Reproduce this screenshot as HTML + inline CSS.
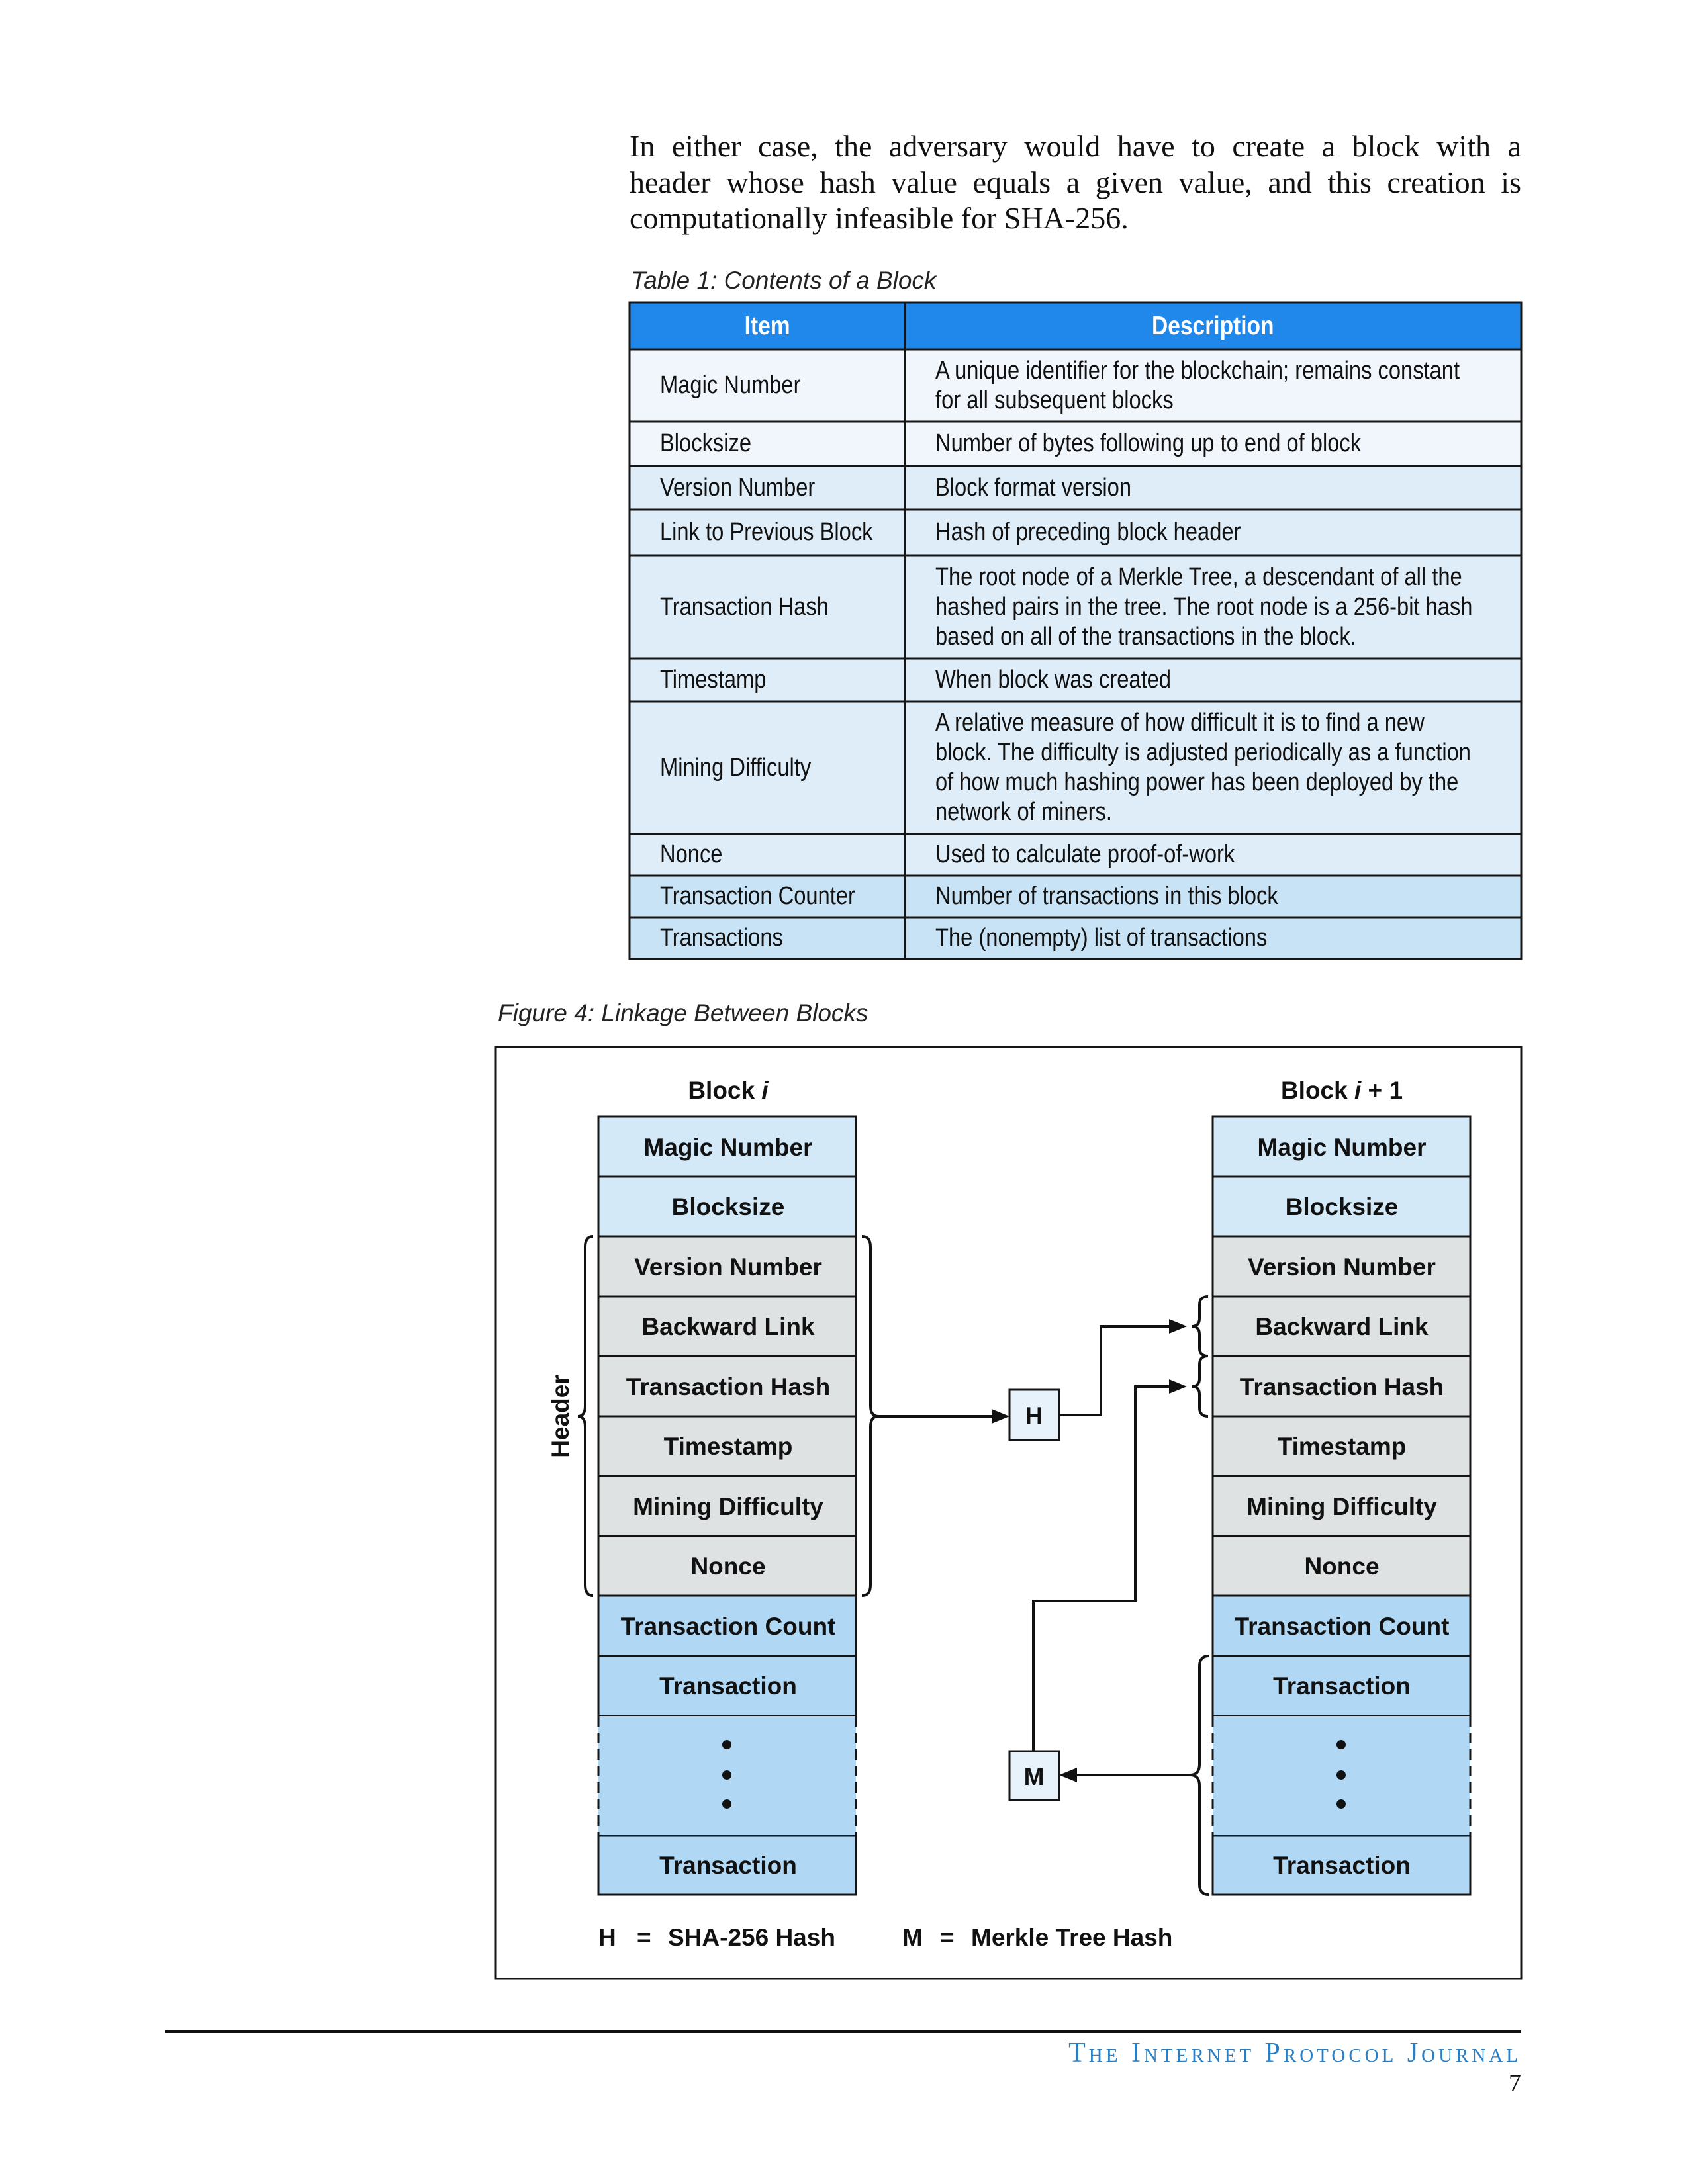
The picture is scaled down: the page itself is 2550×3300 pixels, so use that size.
<!DOCTYPE html>
<html><head><meta charset="utf-8"><style>
html,body{margin:0;padding:0;background:#fff;}
body{width:2550px;height:3300px;position:relative;overflow:hidden;}
.p{position:absolute;left:951px;width:1347px;font-family:"Liberation Serif",serif;font-size:46px;line-height:55px;text-align:justify;text-align-last:justify;color:#111;white-space:nowrap;}
.cap{position:absolute;font-family:"Liberation Sans",sans-serif;font-style:italic;font-size:37px;color:#222;}
.row{position:absolute;left:951px;width:1347px;}
.c{position:absolute;top:0;bottom:0;display:flex;align-items:center;font-family:"Liberation Sans",sans-serif;font-size:38px;line-height:45px;color:#111;white-space:nowrap;}
.c span{display:inline-block;transform:scaleX(0.86);transform-origin:left center;}
.a{left:46px;}
.b{left:462px;}
.h{font-weight:bold;color:#fff;font-size:39px;justify-content:center;}
.h span{transform-origin:center center;}
</style></head><body>
<div class="p" style="top:193px">In either case, the adversary would have to create a block with a</div>
<div class="p" style="top:248px">header whose hash value equals a given value, and this creation is</div>
<div class="p" style="top:302px;text-align-last:left">computationally infeasible for SHA-256.</div>
<div class="cap" style="left:953px;top:403px">Table 1: Contents of a Block</div>

<div class="row" style="top:457px;height:71px;background:#1f88ea"><div class="c h" style="left:0;width:416px"><span>Item</span></div><div class="c h" style="left:416px;width:931px"><span>Description</span></div></div>
<div class="row" style="top:528px;height:109px;background:#f1f6fd"><div class="c a"><span>Magic Number</span></div><div class="c b"><span>A unique identifier for the blockchain; remains constant<br>for all subsequent blocks</span></div></div>
<div class="row" style="top:637px;height:67px;background:#f1f6fd"><div class="c a"><span>Blocksize</span></div><div class="c b"><span>Number of bytes following up to end of block</span></div></div>
<div class="row" style="top:704px;height:66px;background:#deedf8"><div class="c a"><span>Version Number</span></div><div class="c b"><span>Block format version</span></div></div>
<div class="row" style="top:770px;height:69px;background:#deedf8"><div class="c a"><span>Link to Previous Block</span></div><div class="c b"><span>Hash of preceding block header</span></div></div>
<div class="row" style="top:839px;height:156px;background:#deedf8"><div class="c a"><span>Transaction Hash</span></div><div class="c b"><span>The root node of a Merkle Tree, a descendant of all the<br>hashed pairs in the tree. The root node is a 256-bit hash<br>based on all of the transactions in the block.</span></div></div>
<div class="row" style="top:995px;height:65px;background:#deedf8"><div class="c a"><span>Timestamp</span></div><div class="c b"><span>When block was created</span></div></div>
<div class="row" style="top:1060px;height:200px;background:#deedf8"><div class="c a"><span>Mining Difficulty</span></div><div class="c b"><span>A relative measure of how difficult it is to find a new<br>block. The difficulty is adjusted periodically as a function<br>of how much hashing power has been deployed by the<br>network of miners.</span></div></div>
<div class="row" style="top:1260px;height:63px;background:#deedf8"><div class="c a"><span>Nonce</span></div><div class="c b"><span>Used to calculate proof-of-work</span></div></div>
<div class="row" style="top:1323px;height:63px;background:#c8e3f5"><div class="c a"><span>Transaction Counter</span></div><div class="c b"><span>Number of transactions in this block</span></div></div>
<div class="row" style="top:1386px;height:63px;background:#c8e3f5"><div class="c a"><span>Transactions</span></div><div class="c b"><span>The (nonempty) list of transactions</span></div></div>

<div class="cap" style="left:752px;top:1510px">Figure 4: Linkage Between Blocks</div>

<svg width="2550" height="3300" style="position:absolute;left:0;top:0" xmlns="http://www.w3.org/2000/svg">
<g stroke="#151515" stroke-width="3" fill="none">
<rect x="951" y="457" width="1347" height="992"/>
<line x1="1367" y1="457" x2="1367" y2="1449"/>
<line x1="951" y1="528" x2="2298" y2="528"/>
<line x1="951" y1="637" x2="2298" y2="637"/>
<line x1="951" y1="704" x2="2298" y2="704"/>
<line x1="951" y1="770" x2="2298" y2="770"/>
<line x1="951" y1="839" x2="2298" y2="839"/>
<line x1="951" y1="995" x2="2298" y2="995"/>
<line x1="951" y1="1060" x2="2298" y2="1060"/>
<line x1="951" y1="1260" x2="2298" y2="1260"/>
<line x1="951" y1="1323" x2="2298" y2="1323"/>
<line x1="951" y1="1386" x2="2298" y2="1386"/>
</g>
<g font-family="Liberation Sans, sans-serif" font-weight="bold" font-size="37" fill="#111" text-anchor="middle">
<rect x="749" y="1582" width="1549" height="1408" fill="none" stroke="#151515" stroke-width="3"/>
<text x="1100" y="1660">Block <tspan font-style="italic">i</tspan></text>
<text x="2027" y="1660">Block <tspan font-style="italic">i</tspan> + 1</text>
<g stroke="#151515" stroke-width="3">
<rect x="904" y="1687" width="389" height="181" fill="#d4e9f7"/>
<rect x="904" y="1868" width="389" height="543" fill="#dfe2e2"/>
<rect x="904" y="2411" width="389" height="182" fill="#b0d7f3"/>
<rect x="904" y="2773" width="389" height="90" fill="#b0d7f3"/>
<rect x="904" y="2593" width="389" height="180" fill="#b0d7f3" stroke="none"/>
<line x1="904" y1="2593" x2="904" y2="2773" stroke-dasharray="16 9"/>
<line x1="1293" y1="2593" x2="1293" y2="2773" stroke-dasharray="16 9"/>
<line x1="904" y1="1778" x2="1293" y2="1778"/>
<line x1="904" y1="1959" x2="1293" y2="1959"/>
<line x1="904" y1="2049" x2="1293" y2="2049"/>
<line x1="904" y1="2140" x2="1293" y2="2140"/>
<line x1="904" y1="2230" x2="1293" y2="2230"/>
<line x1="904" y1="2321" x2="1293" y2="2321"/>
<line x1="904" y1="2502" x2="1293" y2="2502"/>
<rect x="1832" y="1687" width="389" height="181" fill="#d4e9f7"/>
<rect x="1832" y="1868" width="389" height="543" fill="#dfe2e2"/>
<rect x="1832" y="2411" width="389" height="182" fill="#b0d7f3"/>
<rect x="1832" y="2773" width="389" height="90" fill="#b0d7f3"/>
<rect x="1832" y="2593" width="389" height="180" fill="#b0d7f3" stroke="none"/>
<line x1="1832" y1="2593" x2="1832" y2="2773" stroke-dasharray="16 9"/>
<line x1="2221" y1="2593" x2="2221" y2="2773" stroke-dasharray="16 9"/>
<line x1="1832" y1="1778" x2="2221" y2="1778"/>
<line x1="1832" y1="1959" x2="2221" y2="1959"/>
<line x1="1832" y1="2049" x2="2221" y2="2049"/>
<line x1="1832" y1="2140" x2="2221" y2="2140"/>
<line x1="1832" y1="2230" x2="2221" y2="2230"/>
<line x1="1832" y1="2321" x2="2221" y2="2321"/>
<line x1="1832" y1="2502" x2="2221" y2="2502"/>
<rect x="1525" y="2100" width="75" height="76" fill="#e8f2fb"/>
<rect x="1525" y="2646" width="75" height="74" fill="#e8f2fb"/>
</g>
<g>
<text x="1100" y="1746">Magic Number</text><text x="1100" y="1836">Blocksize</text>
<text x="1100" y="1927">Version Number</text><text x="1100" y="2017">Backward Link</text>
<text x="1100" y="2108">Transaction Hash</text><text x="1100" y="2198">Timestamp</text>
<text x="1100" y="2289">Mining Difficulty</text><text x="1100" y="2379">Nonce</text>
<text x="1100" y="2470">Transaction Count</text><text x="1100" y="2560">Transaction</text>
<text x="1100" y="2831">Transaction</text>
<text x="2027" y="1746">Magic Number</text><text x="2027" y="1836">Blocksize</text>
<text x="2027" y="1927">Version Number</text><text x="2027" y="2017">Backward Link</text>
<text x="2027" y="2108">Transaction Hash</text><text x="2027" y="2198">Timestamp</text>
<text x="2027" y="2289">Mining Difficulty</text><text x="2027" y="2379">Nonce</text>
<text x="2027" y="2470">Transaction Count</text><text x="2027" y="2560">Transaction</text>
<text x="2027" y="2831">Transaction</text>
<text x="1562" y="2152">H</text><text x="1562" y="2697">M</text>
</g>
<g fill="#111">
<circle cx="1098" cy="2636" r="7"/><circle cx="1098" cy="2682" r="7"/><circle cx="1098" cy="2726" r="7"/>
<circle cx="2026" cy="2636" r="7"/><circle cx="2026" cy="2682" r="7"/><circle cx="2026" cy="2726" r="7"/>
</g>
<text x="846" y="2140" transform="rotate(-90 846 2140)" dy="13">Header</text>
<g fill="none" stroke="#111" stroke-width="4">
<path d="M896,1868 Q884,1868 884,1884 L884,2124 Q884,2140 873,2140 Q884,2140 884,2156 L884,2395 Q884,2411 896,2411"/>
<path d="M1302,1868 Q1315,1868 1315,1884 L1315,2124 Q1315,2140 1327,2140 Q1315,2140 1315,2156 L1315,2395 Q1315,2411 1302,2411"/>
<path d="M1825,1959 Q1812,1959 1812,1972 L1812,1992 Q1812,2004 1800,2004 Q1812,2004 1812,2016 L1812,2037 Q1812,2049 1825,2049"/>
<path d="M1825,2049 Q1812,2049 1812,2062 L1812,2083 Q1812,2095 1800,2095 Q1812,2095 1812,2107 L1812,2127 Q1812,2140 1825,2140"/>
<path d="M1826,2502 Q1812,2502 1812,2518 L1812,2666 Q1812,2682 1798,2682 Q1812,2682 1812,2698 L1812,2847 Q1812,2863 1826,2863"/>
<path d="M1327,2140 L1500,2140"/>
<path d="M1600,2138 L1663,2138 L1663,2004 L1768,2004"/>
<path d="M1561,2646 L1561,2419 L1715,2419 L1715,2095 L1768,2095"/>
<path d="M1798,2682 L1625,2682"/>
</g>
<g fill="#111">
<polygon points="1525,2140 1498,2129 1498,2151"/>
<polygon points="1793,2004 1766,1993 1766,2015"/>
<polygon points="1793,2095 1766,2084 1766,2106"/>
<polygon points="1600,2682 1627,2671 1627,2693"/>
</g>
<g text-anchor="start">
<text x="904" y="2940">H</text><text x="962" y="2940">=</text><text x="1009" y="2940">SHA-256 Hash</text>
<text x="1363" y="2940">M</text><text x="1420" y="2940">=</text><text x="1467" y="2940">Merkle Tree Hash</text>
</g>
</g>
<line x1="250" y1="3070" x2="2298" y2="3070" stroke="#111" stroke-width="4"/>
<text x="2298" y="3115" text-anchor="end" font-family="Liberation Serif, serif" font-size="42" fill="#2a7fc4" letter-spacing="5" style="font-variant:small-caps">The Internet Protocol Journal</text>
<text x="2298" y="3160" text-anchor="end" font-family="Liberation Serif, serif" font-size="38" fill="#111">7</text>
</svg>
</body></html>
